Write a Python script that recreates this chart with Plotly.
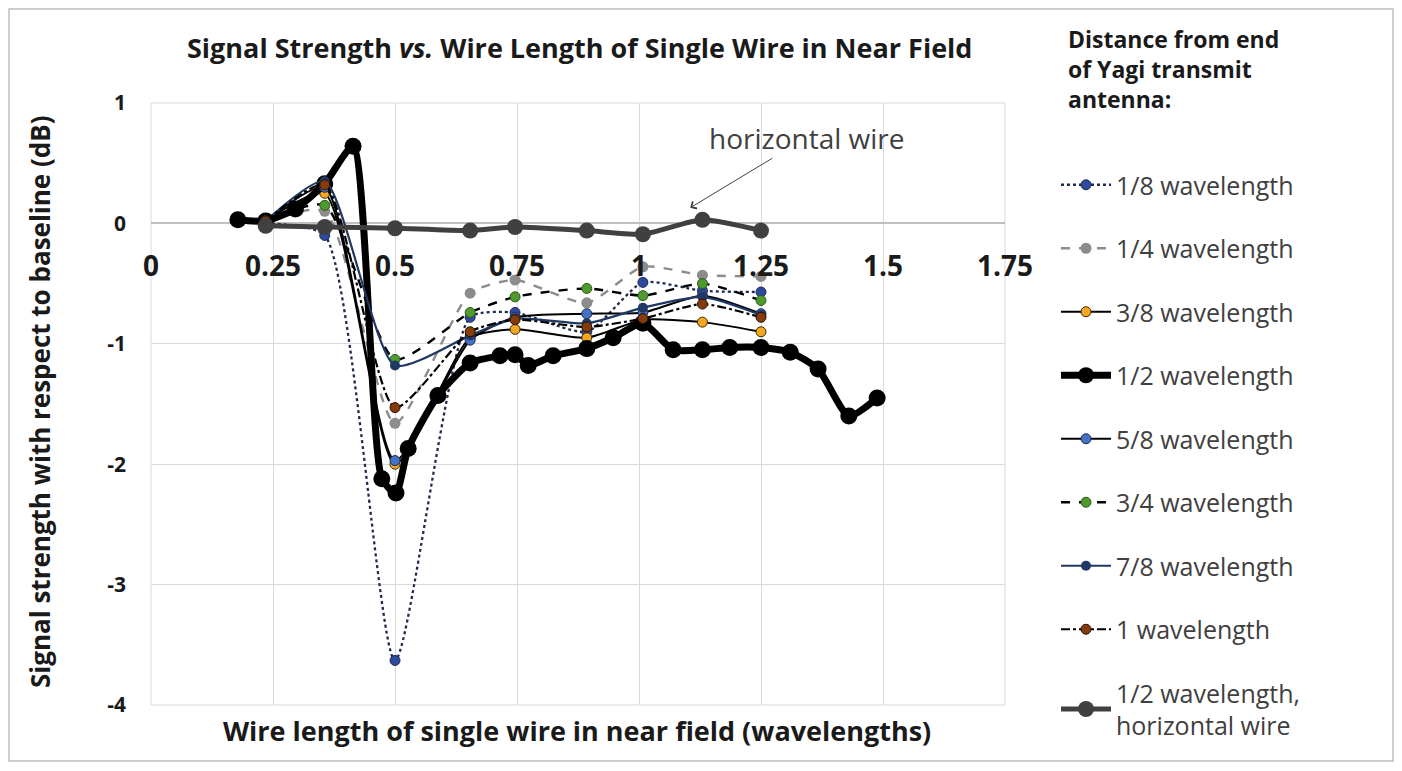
import plotly.graph_objects as go

# ---------------- data ----------------
X_THIN = [0.235, 0.356, 0.5, 0.654, 0.746, 0.893, 1.008, 1.13, 1.25]
Y_1_8 = [0.0, -0.1, -3.63, -0.78, -0.74, -0.9, -0.49, -0.56, -0.57]
Y_1_4 = [0.02, 0.1, -1.66, -0.58, -0.47, -0.66, -0.36, -0.43, -0.44]
Y_3_8 = [0.02, 0.25, -2.0, -0.95, -0.88, -0.95, -0.8, -0.82, -0.9]
Y_5_8 = [0.02, 0.3, -1.97, -0.97, -0.78, -0.75, -0.74, -0.6, -0.75]
Y_3_4 = [0.02, 0.15, -1.13, -0.74, -0.61, -0.54, -0.6, -0.5, -0.64]
Y_7_8 = [0.02, 0.35, -1.18, -0.93, -0.79, -0.83, -0.7, -0.61, -0.76]
Y_1 = [0.02, 0.32, -1.53, -0.9, -0.8, -0.86, -0.79, -0.67, -0.78]

X_HALF = [0.178, 0.235, 0.296, 0.356, 0.414, 0.473, 0.502, 0.527, 0.588, 0.654,
          0.715, 0.746, 0.773, 0.824, 0.893, 0.947, 1.008, 1.07, 1.13, 1.186,
          1.25, 1.31, 1.367, 1.43, 1.488]
Y_HALF = [0.03, 0.02, 0.12, 0.33, 0.64, -2.12, -2.24, -1.87, -1.43, -1.16,
          -1.1, -1.09, -1.18, -1.1, -1.04, -0.95, -0.83, -1.05, -1.05, -1.03,
          -1.03, -1.07, -1.21, -1.6, -1.45]

X_HORIZ = [0.235, 0.356, 0.5, 0.654, 0.746, 0.893, 1.008, 1.13, 1.25]
Y_HORIZ = [-0.02, -0.03, -0.04, -0.06, -0.03, -0.06, -0.09, 0.03, -0.06]

X_TICKS = [0, 0.25, 0.5, 0.75, 1, 1.25, 1.5, 1.75]
X_TICK_TEXT = ["0", "0.25", "0.5", "0.75", "1", "1.25", "1.5", "1.75"]
Y_TICKS = [1, 0, -1, -2, -3, -4]
Y_TICK_TEXT = ["1", "0", "-1", "-2", "-3", "-4"]

FONT = "Open Sans"
TXT = "#1a1a1a"

# ---------------- figure ----------------
fig = go.Figure()

series = [
    ("1/8 wavelength", X_THIN, Y_1_8, dict(color="#1f2a50", width=2.3, dash="dot"),
     dict(color="#2e4a9e", size=10, line=dict(color="#1f2a50", width=1))),
    ("1/4 wavelength", X_THIN, Y_1_4, dict(color="#8c8c8c", width=2.4, dash="dash"),
     dict(color="#8c8c8c", size=11)),
    ("3/8 wavelength", X_THIN, Y_3_8, dict(color="#000000", width=2),
     dict(color="#f5a623", size=10, line=dict(color="#3a2a00", width=1))),
    ("1/2 wavelength", X_HALF, Y_HALF, dict(color="#000000", width=7),
     dict(color="#000000", size=17)),
    ("5/8 wavelength", X_THIN, Y_5_8, dict(color="#000000", width=2),
     dict(color="#4472c4", size=10, line=dict(color="#1f2a50", width=1))),
    ("3/4 wavelength", X_THIN, Y_3_4, dict(color="#000000", width=2.4, dash="dash"),
     dict(color="#4e9a2e", size=10, line=dict(color="#2a5a18", width=1))),
    ("7/8 wavelength", X_THIN, Y_7_8, dict(color="#1f3864", width=2.2),
     dict(color="#1f3864", size=10)),
    ("1 wavelength", X_THIN, Y_1, dict(color="#000000", width=2.2, dash="dashdot"),
     dict(color="#843c0c", size=10, line=dict(color="#2a1000", width=1))),
    ("1/2 wavelength,<br>horizontal wire", X_HORIZ, Y_HORIZ,
     dict(color="#404040", width=5), dict(color="#404040", size=16)),
]

for i, (name, xs, ys, ln, mk) in enumerate(series):
    ln = dict(ln)
    ln["shape"] = "spline"
    ln["smoothing"] = 0.6
    fig.add_trace(go.Scatter(
        x=xs, y=ys, name=name, mode="lines+markers",
        line=ln, marker=mk, legendgroup=f"g{i}",
    ))

# page body has an 8px margin; coordinates below are reference-image pixels
OFF = 8
W, H = 1386, 755
L, R, T, B = 151, 1005, 103, 705
def px(x):
    return (x - L) / (R - L)
def py(y):
    return (B - y) / (B - T)
def cx(x):
    return (x - OFF) / W
def cy(y):
    return 1 - (y - OFF) / H

annotations = [
    dict(text="<b>Signal Strength <i>vs.</i> Wire Length of Single Wire in Near Field</b>",
         x=px(579), y=py(48), xref="paper", yref="paper", showarrow=False,
         xanchor="center", yanchor="middle", font=dict(family=FONT, size=27, color=TXT)),
    dict(text="<b>Wire length of single wire in near field (wavelengths)</b>",
         x=px(577), y=py(730), xref="paper", yref="paper", showarrow=False,
         xanchor="center", yanchor="middle", font=dict(family=FONT, size=27, color=TXT)),
    dict(text="<b>Signal strength with respect to baseline (dB)</b>",
         x=px(40), y=py(402), xref="paper", yref="paper", showarrow=False,
         textangle=-90, xanchor="center", yanchor="middle",
         font=dict(family=FONT, size=26, color=TXT)),
    dict(text="horizontal wire", x=1.105, y=0.13, xref="x", yref="y",
         ax=116, ay=-70, axref="pixel", ayref="pixel", showarrow=True,
         arrowhead=4, arrowsize=1.6, arrowwidth=1, arrowcolor="#404040",
         font=dict(family=FONT, size=28, color="#404040")),
    dict(text="<b>Distance from end<br>of Yagi transmit<br>antenna:</b>",
         x=px(1066), y=py(21), xref="paper", yref="paper", showarrow=False,
         xanchor="left", yanchor="top", align="left",
         font=dict(family=FONT, size=23, color=TXT)),
]

shapes = [
    dict(type="rect", xref="paper", yref="paper", x0=px(9), x1=px(1393), y0=py(761), y1=py(9),
         line=dict(color="#bfbfbf", width=1.5), layer="below"),
    dict(type="rect", xref="paper", yref="paper", x0=0, x1=1, y0=0, y1=1,
         line=dict(color="#d9d9d9", width=1), layer="below"),
]

fig.update_layout(
    width=W, height=H,
    margin=dict(l=L - OFF, r=W - (R - OFF), t=T - OFF, b=H - (B - OFF), autoexpand=False),
    paper_bgcolor="white", plot_bgcolor="white",
    showlegend=True,
    legend=dict(xref="container", yref="container",
                x=cx(1056), y=cy(162), xanchor="left", yanchor="top",
                font=dict(family=FONT, size=25, color="#404040"),
                tracegroupgap=28, itemwidth=50, bgcolor="rgba(0,0,0,0)",
                maxheight=700),
    annotations=annotations,
    shapes=shapes,
    xaxis=dict(range=[0, 1.75], tickvals=X_TICKS, ticktext=X_TICK_TEXT,
               anchor="free", position=0.8, showgrid=True, gridcolor="#d9d9d9",
               gridwidth=1, zeroline=False, showline=False, ticks="",
               ticklabelstandoff=24,
               tickfont=dict(family=FONT, size=28, color=TXT, weight="bold")),
    yaxis=dict(range=[-4, 1], tickvals=Y_TICKS, ticktext=Y_TICK_TEXT,
               showgrid=True, gridcolor="#d9d9d9",
               zeroline=True, zerolinecolor="#bfbfbf", zerolinewidth=1.5,
               showline=False, ticks="", ticklabelstandoff=24,
               tickfont=dict(family=FONT, size=21, color=TXT, weight="bold")),
)

fig.write_html("out.html")
